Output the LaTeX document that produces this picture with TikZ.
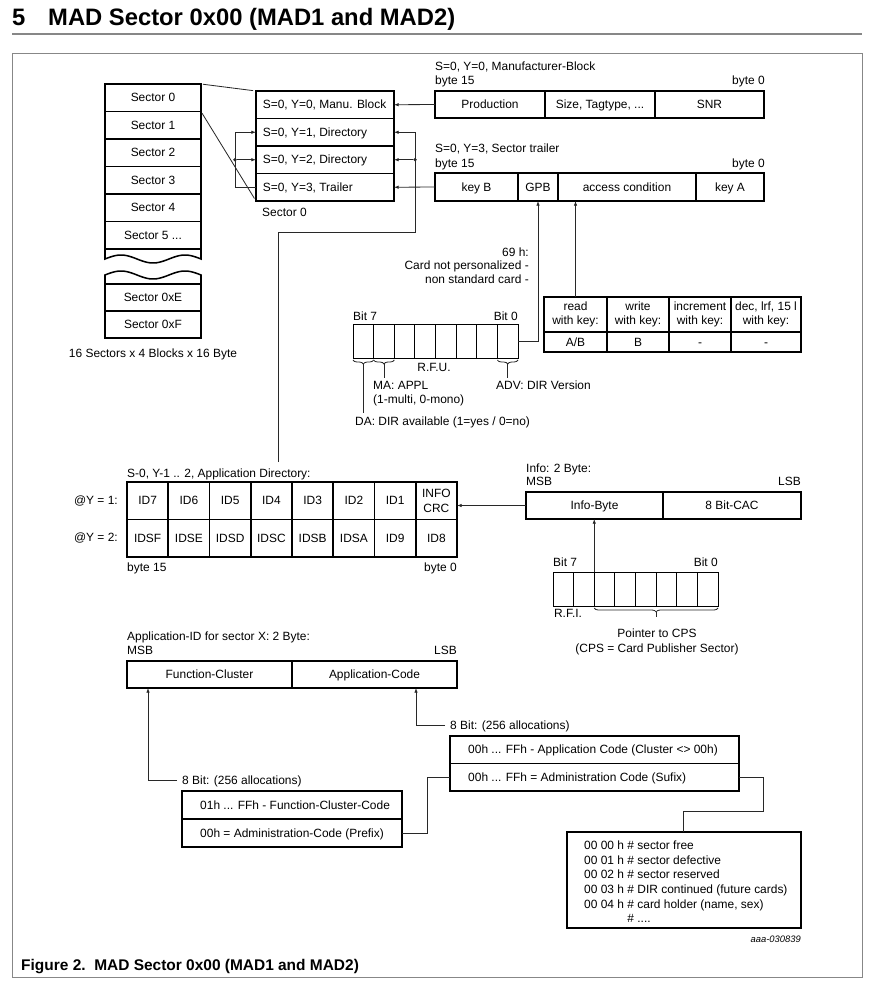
\documentclass[tikz,border=0pt]{standalone}
\usepackage{fontspec}
\setmainfont{Liberation Sans}
\usetikzlibrary{positioning,arrows.meta,decorations.pathreplacing}

\definecolor{framegray}{RGB}{135,135,135}
\definecolor{linegray}{RGB}{40,40,40}

\tikzset{
  box/.style={draw, line width=1.3pt, outer sep=0pt, inner sep=0pt, align=center},
  cell/.style={box, text height=9.2pt, text depth=2.3pt},
  bit/.style={draw, line width=0.7pt, outer sep=0pt, inner sep=0pt, minimum width=6.19mm, minimum height=10.2mm},
  txt/.style={inner sep=0pt, anchor=base west},
  rowtxt/.style={inner sep=0pt, anchor=west, text height=9.2pt, text depth=2.3pt},
  link/.style={draw=linegray, line width=0.7pt},
  tip/.style={link, -{Latex[length=4pt,width=3pt]}},
  dot/.style={circle, fill=linegray, inner sep=0pt, minimum size=3pt},
  brc/.style={link, decorate, decoration={brace, mirror, amplitude=1.2mm}}
}

\begin{document}
\begin{tikzpicture}[x=0.3mm, y=-0.3mm, font=\fontsize{10.2}{12.2}\selectfont]
\useasboundingbox (0,0) rectangle (887,989);

% heading, frame, caption
\node[txt, font=\fontsize{20.3}{24}\selectfont\bfseries] (num) at (12,26) {5};
\node[txt, font=\fontsize{20.3}{24}\selectfont\bfseries] (title) at (48,26) {MAD Sector 0x00 (MAD1 and MAD2)};
\draw[framegray, line width=1.6pt] (12,34) -- (862,34);
\draw[framegray, line width=0.8pt] (12,53) rectangle (862,977);
\node[txt, font=\fontsize{13.2}{15}\selectfont\bfseries] (caption) at (21,970) {Figure 2.\ \ MAD Sector 0x00 (MAD1 and MAD2)};

% sector column
\node[cell, minimum width=28.8mm, minimum height=8.25mm, anchor=north west] (sec0) at (105,84) {Sector 0};
\node[cell, minimum width=28.8mm, minimum height=8.25mm, below=0pt of sec0] (sec1) {Sector 1};
\node[cell, minimum width=28.8mm, minimum height=8.25mm, below=0pt of sec1] (sec2) {Sector 2};
\node[cell, minimum width=28.8mm, minimum height=8.25mm, below=0pt of sec2] (sec3) {Sector 3};
\node[cell, minimum width=28.8mm, minimum height=8.25mm, below=0pt of sec3] (sec4) {Sector 4};
\node[cell, minimum width=28.8mm, minimum height=8.25mm, below=0pt of sec4] (sec5) {Sector 5 ...};
\draw[line width=1.3pt] (sec5.south west) -- (105,259) -- plot[domain=105:201, samples=40, smooth] (\x,{259-4*sin((\x-105)*5.625)}) -- (sec5.south east);
\node[cell, minimum width=28.8mm, minimum height=8.1mm, anchor=north west] (secE) at (105,284) {Sector 0xE};
\node[cell, minimum width=28.8mm, minimum height=8.1mm, below=0pt of secE] (secF) {Sector 0xF};
\draw[line width=1.3pt] (secE.north west) -- (105,275) -- plot[domain=105:201, samples=40, smooth] (\x,{275-4*sin((\x-105)*5.625)}) -- (secE.north east);
\node[txt, anchor=base] (secnote) at (153,357) {16 Sectors x 4 Blocks x 16 Byte};

% sector 0 blocks
\node[box, minimum width=41.4mm, minimum height=8.25mm, anchor=north west] (blk0) at (256,91) {};
\node[box, minimum width=41.4mm, minimum height=8.25mm, below=0pt of blk0] (blk1) {};
\node[box, minimum width=41.4mm, minimum height=8.25mm, below=0pt of blk1] (blk2) {};
\node[box, minimum width=41.4mm, minimum height=8.25mm, below=0pt of blk2] (blk3) {};
\node[rowtxt] (blk0t) at ([xshift=2mm]blk0.west) {S=0, Y=0, Manu. Block};
\node[rowtxt] (blk1t) at ([xshift=2mm]blk1.west) {S=0, Y=1, Directory};
\node[rowtxt] (blk2t) at ([xshift=2mm]blk2.west) {S=0, Y=2, Directory};
\node[rowtxt] (blk3t) at ([xshift=2mm]blk3.west) {S=0, Y=3, Trailer};
\node[txt] (blknote) at (262,216) {Sector 0};
\draw[link, shorten <=0.6mm, shorten >=0.9mm] (sec0.north east) -- (blk0.north west);
\draw[link, shorten <=0.6mm, shorten >=0.9mm] (sec0.south east) -- (blk3.south west);
\draw[tip] (blk3.west) -- ++(-21,0) coordinate (loopl) |- (blk1.west);
\node[dot] (dotl) at (loopl |- blk2.west) {};
\draw[tip] (dotl) -- (blk2.west);

% manufacturer block
\node[txt] (mfgtitle) at (435,71) {S=0, Y=0, Manufacturer-Block};
\node[txt] (mfghi) at (435,85) {byte 15};
\node[txt, anchor=base east] (mfglo) at (765,85) {byte 0};
\node[cell, minimum width=33mm, minimum height=8.1mm, anchor=north west] (mfg1) at (435,91) {Production};
\node[cell, minimum width=33mm, minimum height=8.1mm, right=0pt of mfg1] (mfg2) {Size, Tagtype, ...};
\node[cell, minimum width=32.7mm, minimum height=8.1mm, right=0pt of mfg2] (mfg3) {SNR};
\draw[tip] (mfg1.west) -- (blk0.east);

% sector trailer
\node[txt] (trltitle) at (435,153) {S=0, Y=3, Sector trailer};
\node[txt] (trlhi) at (435,168) {byte 15};
\node[txt, anchor=base east] (trllo) at (765,168) {byte 0};
\node[cell, minimum width=24.9mm, minimum height=8.4mm, anchor=north west] (trl1) at (435,173) {key B};
\node[cell, minimum width=12mm, minimum height=8.4mm, right=0pt of trl1] (trl2) {GPB};
\node[cell, minimum width=41.4mm, minimum height=8.4mm, right=0pt of trl2] (trl3) {access condition};
\node[cell, minimum width=20.4mm, minimum height=8.4mm, right=0pt of trl3] (trl4) {key A};
\draw[tip] (trl1.west) -- (blk3.east);

% directory link
\coordinate (dirin) at (278,462);
\draw[tip] (dirin) |- ++(137,-230) coordinate (loopr) |- (blk1.east);
\node[dot] (dotr) at (loopr |- blk2.east) {};
\draw[tip] (dotr) -- (blk2.east);

% GPB byte
\foreach \i in {1,...,8}
  \node[bit, anchor=north west] (bA\i) at ({353+20.625*(\i-1)},324) {};
\node[txt] (bAhi) at (353,320) {Bit 7};
\node[txt, anchor=base east] (bAlo) at (518,320) {Bit 0};
\draw[tip] (bA8.east) -| (trl2.south);
\node[txt, anchor=base east] (gpb1) at (529,256) {69 h:};
\node[txt, anchor=base east] (gpb2) at (529,269) {Card not personalized -};
\node[txt, anchor=base east] (gpb3) at (529,283) {non standard card -};
\draw[brc] ([yshift=-0.6mm]bA1.south west) -- ([yshift=-0.6mm]bA1.south east);
\draw[brc] ([yshift=-0.6mm]bA2.south west) -- ([yshift=-0.6mm]bA2.south east);
\draw[brc] ([yshift=-0.6mm]bA8.south west) -- ([yshift=-0.6mm]bA8.south east);
\draw[link] ([yshift=-1.8mm]bA1.south) -- ++(0,49);
\draw[link] ([yshift=-1.8mm]bA2.south) -- ++(0,14);
\draw[link] ([yshift=-1.8mm]bA8.south) -- ++(0,14);
\node[txt, anchor=base] (rfu) at (434,371) {R.F.U.};
\node[txt] (ma) at (373,389) {MA: APPL};
\node[txt] (mamode) at (373,403) {(1-multi, 0-mono)};
\node[txt] (adv) at (496,389) {ADV: DIR Version};
\node[txt] (da) at (355,425) {DA: DIR available (1=yes / 0=no)};

% access conditions
\node[box, minimum width=18.9mm, minimum height=10.5mm, anchor=north west] (acc1) at (544,297) {read\\with key:};
\node[box, minimum width=18.6mm, minimum height=10.5mm, right=0pt of acc1] (acc2) {write\\with key:};
\node[box, minimum width=18.6mm, minimum height=10.5mm, right=0pt of acc2] (acc3) {increment\\with key:};
\node[box, minimum width=21mm, minimum height=10.5mm, right=0pt of acc3] (acc4) {dec, lrf, 15 l\\with key:};
\node[cell, minimum width=18.9mm, minimum height=6mm, below=0pt of acc1] (val1) {A/B};
\node[cell, minimum width=18.6mm, minimum height=6mm, below=0pt of acc2] (val2) {B};
\node[cell, minimum width=18.6mm, minimum height=6mm, below=0pt of acc3] (val3) {-};
\node[cell, minimum width=21mm, minimum height=6mm, below=0pt of acc4] (val4) {-};
\draw[tip] (acc1.north) -- (acc1.north |- trl3.south);

% application directory
\node[txt] (dirtitle) at (127,477) {S-0, Y-1 .. 2, Application Directory:};
\foreach \lab [count=\i] in {ID7,ID6,ID5,ID4,ID3,ID2,ID1}
  \node[cell, minimum width=12.375mm, minimum height=11.25mm, anchor=north west] (dirA\i) at ({127+41.25*(\i-1)},482) {\lab};
\node[box, minimum width=12.375mm, minimum height=11.25mm, right=0pt of dirA7] (dirA8) {INFO\\CRC};
\foreach \lab [count=\i] in {IDSF,IDSE,IDSD,IDSC,IDSB,IDSA,ID9,ID8}
  \node[cell, minimum width=12.375mm, minimum height=11.25mm, below=0pt of dirA\i] (dirB\i) {\lab};
\node[txt, anchor=base east] (rowy1) at (118,504) {@Y = 1:};
\node[txt, anchor=base east] (rowy2) at (118,541) {@Y = 2:};
\node[txt] (dirhi) at (127,571) {byte 15};
\node[txt, anchor=base east] (dirlo) at (457,571) {byte 0};

% info bytes
\node[txt] (infotitle) at (526,472) {Info: 2 Byte:};
\node[txt] (infomsb) at (526,485) {MSB};
\node[txt, anchor=base east] (infolsb) at (801,485) {LSB};
\node[cell, minimum width=41.1mm, minimum height=8.1mm, anchor=north west] (info1) at (526,492) {Info-Byte};
\node[cell, minimum width=41.4mm, minimum height=8.1mm, right=0pt of info1] (info2) {8 Bit-CAC};
\draw[tip] (info1.west) -- (info1.west -| dirA8.east);
\foreach \i in {1,...,8}
  \node[bit, anchor=north west] (bB\i) at ({553+20.625*(\i-1)},572) {};
\node[txt] (bBhi) at (553,566) {Bit 7};
\node[txt, anchor=base east] (bBlo) at (718,566) {Bit 0};
\draw[tip] (bB3.north west) -- (bB3.north west |- info1.south);
\node[txt, anchor=base] (rfi) at (568,617) {R.F.I.};
\draw[brc] ([yshift=-0.6mm]bB3.south west) -- ([yshift=-0.6mm]bB8.south east);
\draw[link] ([yshift=-1.8mm]bB5.south east) -- ++(0,5);
\node[txt, anchor=base] (cps1) at (657,637) {Pointer to CPS};
\node[txt, anchor=base] (cps2) at (657,652) {(CPS = Card Publisher Sector)};

% application id
\node[txt] (aidtitle) at (127,640) {Application-ID for sector X: 2 Byte:};
\node[txt] (aidmsb) at (127,654) {MSB};
\node[txt, anchor=base east] (aidlsb) at (457,654) {LSB};
\node[cell, minimum width=49.5mm, minimum height=8.1mm, anchor=north west] (aid1) at (127,661) {Function-Cluster};
\node[cell, minimum width=49.5mm, minimum height=8.1mm, right=0pt of aid1] (aid2) {Application-Code};

\node[rowtxt, inner xsep=1.5mm] (alloc1) at (177,780) {8 Bit: (256 allocations)};
\draw[tip] (alloc1.west) -| ([xshift=6.3mm]aid1.south west);
\node[box, minimum width=66mm, minimum height=8.4mm, anchor=north west] (pre1) at (182,791) {};
\node[box, minimum width=66mm, minimum height=8.4mm, below=0pt of pre1] (pre2) {};
\node[rowtxt] (pre1t) at ([xshift=5.4mm]pre1.west) {01h ... FFh - Function-Cluster-Code};
\node[rowtxt] (pre2t) at ([xshift=5.4mm]pre2.west) {00h = Administration-Code (Prefix)};

\node[rowtxt, inner xsep=1.5mm] (alloc2) at (445,725) {8 Bit: (256 allocations)};
\draw[tip] (alloc2.west) -| ([xshift=37.2mm]aid2.south west);
\node[box, minimum width=86.7mm, minimum height=8.25mm, anchor=north west] (suf1) at (450,736) {};
\node[box, minimum width=86.7mm, minimum height=8.25mm, below=0pt of suf1] (suf2) {};
\node[rowtxt] (suf1t) at ([xshift=5.4mm]suf1.west) {00h ... FFh - Application Code (Cluster <> 00h)};
\node[rowtxt] (suf2t) at ([xshift=5.4mm]suf2.west) {00h ... FFh = Administration Code (Sufix)};
\draw[link] (pre2.east) -- ++(25,0) |- (suf2.west);

% administration codes
\node[box, minimum width=70.2mm, minimum height=28.8mm, anchor=north west] (codes) at (567,832) {};
\node[anchor=north west, align=left, inner sep=0pt, font=\fontsize{10.2}{12.4}\selectfont] (codest) at (584,841)
  {00 00 h \# sector free\\
   00 01 h \# sector defective\\
   00 02 h \# sector reserved\\
   00 03 h \# DIR continued (future cards)\\
   00 04 h \# card holder (name, sex)\\
   \phantom{00 04 h }\# ....};
\draw[link] (suf2.east) -- ++(24,0) -- ++(0,34) -| ([xshift=34.8mm]codes.north west);
\node[txt, anchor=base east, font=\fontsize{8}{10}\selectfont\itshape] (figid) at (801,942) {aaa-030839};
\end{tikzpicture}
\end{document}
